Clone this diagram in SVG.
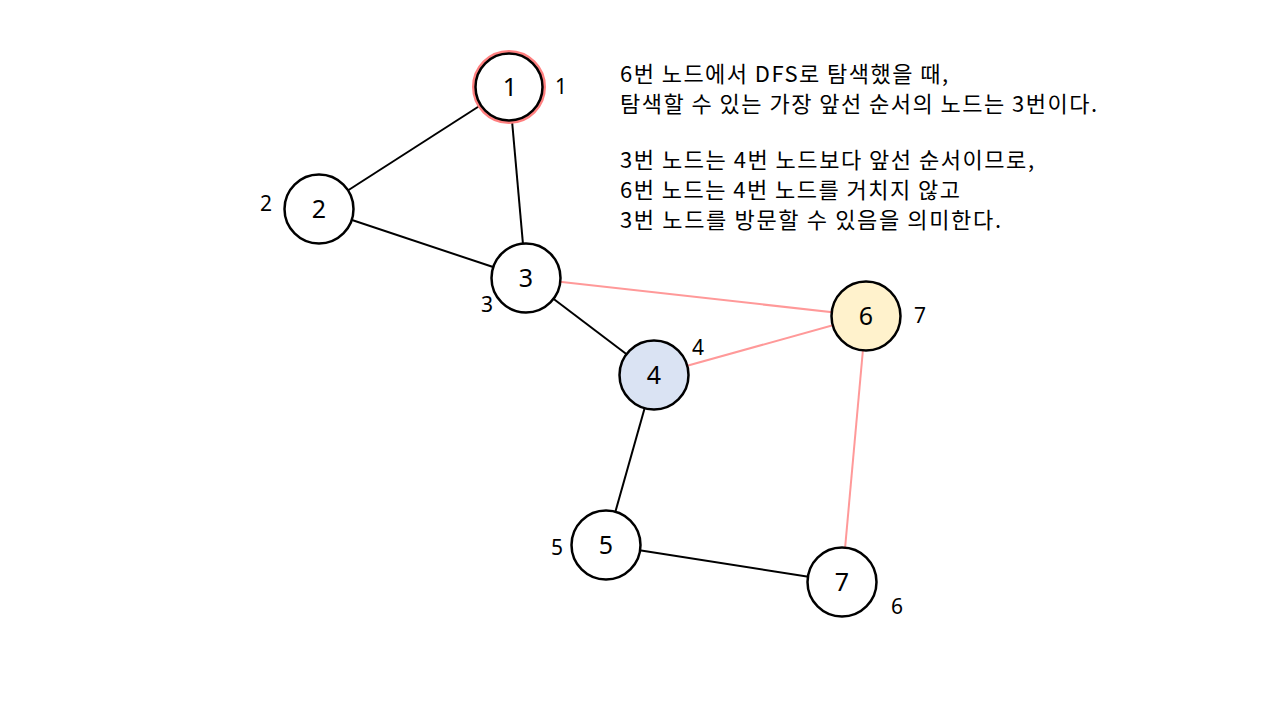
<svg xmlns="http://www.w3.org/2000/svg" width="1280" height="720" viewBox="0 0 1280 720">
<style>
.edge{stroke:#000;stroke-width:2;fill:none}
.edge.red{stroke:#ff9999}
.node circle{stroke:#000;stroke-width:2.5;fill:#fff}
.num{font-family:"Noto Sans","Noto Sans CJK KR",sans-serif;font-size:25px;text-anchor:middle;fill:#000}
.lbl{font-family:"Noto Sans","Noto Sans CJK KR",sans-serif;font-size:21px;text-anchor:middle;fill:#000}
.desc{font-family:"Noto Sans CJK KR","Noto Sans",sans-serif;font-size:22px;fill:#000}
</style>
<rect width="1280" height="720" fill="#fff"/>
<g id="connectors">
<line class="edge" x1="509" y1="87" x2="319" y2="209"/>
<line class="edge" x1="509" y1="87" x2="526" y2="278"/>
<line class="edge" x1="319" y1="209" x2="526" y2="278"/>
<line class="edge" x1="526" y1="278" x2="654" y2="375"/>
<line class="edge" x1="654" y1="375" x2="606" y2="545"/>
<line class="edge" x1="606" y1="545" x2="842" y2="582"/>
<line class="edge red" x1="526" y1="278" x2="866" y2="316"/>
<line class="edge red" x1="654" y1="375" x2="866" y2="316"/>
<line class="edge red" x1="866" y1="316" x2="842" y2="582"/>
</g>
<g id="node1" class="node">
<circle cx="509" cy="87" r="35" style="stroke:#ff8080;stroke-width:4"/>
<circle cx="509" cy="87" r="33.5"/>
<text class="num" x="510" y="96">1</text>
<text class="lbl" x="561" y="94">1</text>
</g>
<g id="node2" class="node">
<circle cx="319" cy="209" r="34.5"/>
<text class="num" x="319" y="218">2</text>
<text class="lbl" x="266" y="211">2</text>
</g>
<g id="node3" class="node">
<circle cx="526" cy="278" r="34.5"/>
<text class="num" x="526" y="287">3</text>
<text class="lbl" x="487" y="312">3</text>
</g>
<g id="node4" class="node">
<circle cx="654" cy="375" r="34.5" style="fill:#dae3f3"/>
<text class="num" x="654" y="384">4</text>
<text class="lbl" x="698" y="355">4</text>
</g>
<g id="node6" class="node">
<circle cx="866" cy="316" r="34.5" style="fill:#fff2cc"/>
<text class="num" x="866" y="325">6</text>
<text class="lbl" x="920" y="323">7</text>
</g>
<g id="node5" class="node">
<circle cx="606" cy="545" r="34.5"/>
<text class="num" x="606" y="554">5</text>
<text class="lbl" x="557" y="555">5</text>
</g>
<g id="node7" class="node">
<circle cx="842" cy="582" r="34.5"/>
<text class="num" x="842" y="591">7</text>
<text class="lbl" x="897" y="614">6</text>
</g>
<g id="description">
<text class="desc" x="620" y="82" textLength="328" lengthAdjust="spacing">6번 노드에서 DFS로 탐색했을 때,</text>
<text class="desc" x="620" y="112" textLength="477" lengthAdjust="spacing">탐색할 수 있는 가장 앞선 순서의 노드는 3번이다.</text>
<text class="desc" x="620" y="168" textLength="414" lengthAdjust="spacing">3번 노드는 4번 노드보다 앞선 순서이므로,</text>
<text class="desc" x="620" y="198" textLength="340" lengthAdjust="spacing">6번 노드는 4번 노드를 거치지 않고</text>
<text class="desc" x="620" y="228" textLength="381" lengthAdjust="spacing">3번 노드를 방문할 수 있음을 의미한다.</text>
</g>
</svg>
